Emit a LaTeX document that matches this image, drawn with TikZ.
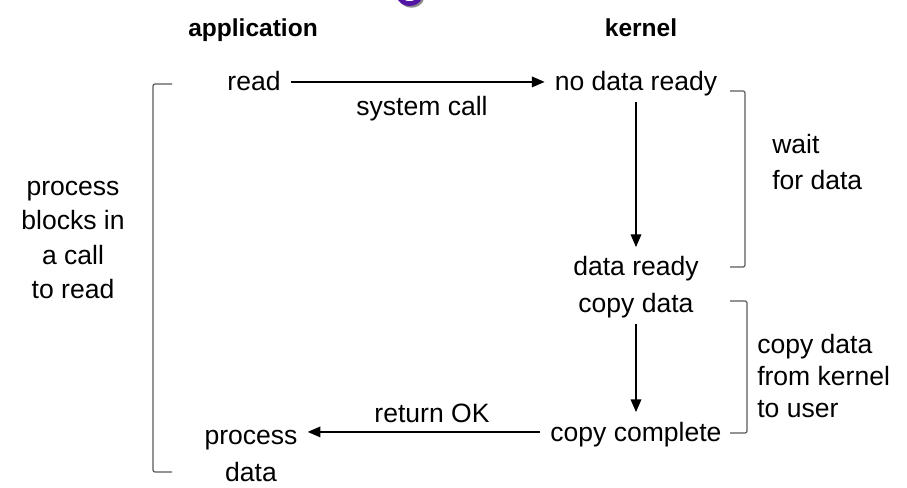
\documentclass[tikz,border=0pt]{standalone}
\usepackage{fontspec}
\setmainfont{Liberation Sans}
\usetikzlibrary{arrows.meta}

\definecolor{logopurple}{RGB}{84,22,164}

\tikzset{
  lbl/.style={font=\fontsize{19.9}{24}\selectfont, anchor=base,
    inner xsep=7.5pt, inner ysep=1.5pt, text height=20pt, text depth=6.4pt},
  head/.style={font=\fontsize{18.4}{22}\selectfont\bfseries, anchor=base},
  note/.style={font=\fontsize{19.9}{#1}\selectfont, inner sep=0pt},
  flow/.style={draw=black, line width=0.9pt, -{Triangle[length=9.5pt,width=8pt]}},
  brace/.style={draw=black!65, line width=0.9pt, rounded corners=1.5pt},
}

\begin{document}
\begin{tikzpicture}[x=0.75pt,y=-0.75pt]
  \useasboundingbox (0,0) rectangle (907,488);

  % cut-off logo at the top edge
  \draw[black!45, line width=3.5pt] (401,-3) .. controls (403,8) and (419,8) .. (422,-2);
  \draw[logopurple, line width=3.5pt] (399,-4) .. controls (401,6) and (417,6) .. (420,-3);

  % column heads
  \node[head] (app) at (253,37) {application};
  \node[head] (kern) at (641,37) {kernel};

  % steps
  \node[lbl] (rd) at (254,91) {read};
  \node[lbl] (nodata) at (636,91) {no data ready};
  \node[lbl] (syscall) at (422,116) {system call};
  \node[lbl] (dready) at (636,276) {data ready};
  \node[lbl] (cpy) at (636,313) {copy data};
  \node[lbl] (cpydone) at (636,441) {copy complete};
  \node[lbl] (retok) at (432,422) {return OK};
  % multi-line nodes: base is the last line
  \node[note=27.75pt, align=center, anchor=base, inner xsep=7.5pt] (proc) at (251,481) {process\\data};

  \draw[flow] (rd) -- (nodata);
  \draw[flow] (nodata) -- (dready);
  \draw[flow] (cpy) -- (cpydone);
  \draw[flow] (cpydone.west) -- (cpydone.west -| proc.east);

  % brackets
  \draw[brace] (172,84) -- (153,84) -- (153,472) -- (172,472);
  \draw[brace] (730,91) -- (745,91) -- (745,267) -- (730,267);
  \draw[brace] (730,301) -- (747,301) -- (747,433) -- (730,433);

  \node[note=25.9pt, align=center, anchor=base] (blocked) at (73,299) {process\\blocks in\\a call\\to read};
  \node[note=27pt, align=left, anchor=base west] (waitnote) at (772,190) {wait\\for data};
  \node[note=24pt, align=left, anchor=base west] (copynote) at (757,417) {copy data\\from kernel\\to user};
\end{tikzpicture}
\end{document}
